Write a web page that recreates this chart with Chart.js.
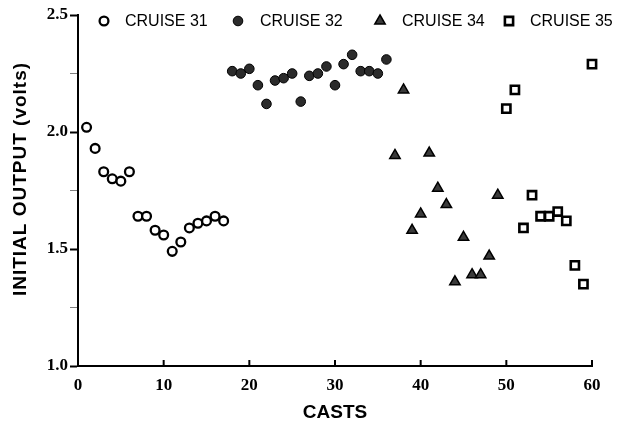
<!DOCTYPE html>
<html>
<head>
<meta charset="utf-8">
<script src="https://cdn.jsdelivr.net/npm/chart.js@4.4.1/dist/chart.umd.min.js"></script>
<style>
  html, body { margin: 0; padding: 0; background: #fff; }
  #wrap { width: 618px; height: 424px; }
</style>
</head>
<body>
<div id="wrap"><canvas id="castChart"></canvas></div>
<script>
// Values
const cruise31Casts = [1, 2, 3, 4, 5, 6, 7, 8, 9, 10, 11, 12, 13, 14, 15, 16, 17];
const cruise31Volts = [2.02, 1.93, 1.83, 1.80, 1.79, 1.83, 1.64, 1.64, 1.58, 1.56, 1.49, 1.53, 1.59, 1.61, 1.62, 1.64, 1.62];

const cruise32Casts = [18, 19, 20, 21, 22, 23, 24, 25, 26, 27, 28, 29, 30, 31, 32, 33, 34, 35, 36];
const cruise32Volts = [2.26, 2.25, 2.27, 2.20, 2.12, 2.22, 2.23, 2.25, 2.13, 2.24, 2.25, 2.28, 2.20, 2.29, 2.33, 2.26, 2.26, 2.25, 2.31];

const cruise34Casts = [37, 38, 39, 40, 41, 42, 43, 44, 45, 46, 47, 48, 49];
const cruise34Volts = [1.90, 2.18, 1.58, 1.65, 1.91, 1.76, 1.69, 1.36, 1.55, 1.39, 1.39, 1.47, 1.73];

const cruise35Casts = [50, 51, 52, 53, 54, 55, 56, 57, 58, 59, 60];
const cruise35Volts = [2.10, 2.18, 1.59, 1.73, 1.64, 1.64, 1.66, 1.62, 1.43, 1.35, 2.29];

const seriesLabels = ['CRUISE 31', 'CRUISE 32', 'CRUISE 34', 'CRUISE 35'];
const xTickValues = [0, 10, 20, 30, 40, 50, 60];
const yTickValues = [1.0, 1.5, 2.0, 2.5];
const xTitle = 'CASTS';
const yTitle = 'INITIAL OUTPUT (volts)';

function toPoints(xs, ys) {
    return xs.map((x, i) => ({ x: x, y: ys[i] }));
}

const tickFont = { family: "'Liberation Serif', serif", size: 17, weight: 'bold' };

// Legend along the top of the plot (drawn by hand so it sits inside the frame)
const topLegend = {
    id: 'topLegend',
    afterDraw(chart) {
        const ctx = chart.ctx;
        const markerX = [104, 238, 380, 509];
        const textX = [125, 260, 402, 530];
        const y = 21;
        ctx.save();
        chart.data.datasets.forEach((ds, i) => {
            ctx.fillStyle = ds.backgroundColor;
            ctx.strokeStyle = ds.borderColor;
            ctx.lineWidth = ds.borderWidth;
            Chart.helpers.drawPoint(ctx, {
                pointStyle: ds.pointStyle,
                radius: ds.pointRadius,
                borderWidth: ds.borderWidth,
                rotation: 0
            }, markerX[i], y);
            ctx.fillStyle = '#000';
            ctx.font = "16px 'Liberation Sans', Arial, sans-serif";
            ctx.textAlign = 'left';
            ctx.textBaseline = 'middle';
            ctx.fillText(ds.label, textX[i], y + 1);
        });
        ctx.restore();
    }
};

// Inward ticks on the x axis and the rotated y title
const axisExtras = {
    id: 'axisExtras',
    afterDraw(chart) {
        const ctx = chart.ctx;
        const xs = chart.scales.x;
        const area = chart.chartArea;
        ctx.save();
        ctx.strokeStyle = '#000';
        ctx.lineWidth = 2;
        xTickValues.forEach(v => {
            const px = xs.getPixelForValue(v);
            ctx.beginPath();
            ctx.moveTo(px, area.bottom);
            ctx.lineTo(px, area.bottom - 6);
            ctx.stroke();
        });
        ctx.translate(21, 179);
        ctx.rotate(-Math.PI / 2);
        ctx.fillStyle = '#000';
        ctx.font = "bold 19px 'Liberation Sans', Arial, sans-serif";
        ctx.letterSpacing = '1px';
        ctx.textAlign = 'center';
        ctx.textBaseline = 'middle';
        ctx.fillText(yTitle, 0, 0);
        ctx.restore();
    }
};

const isMajorY = v => yTickValues.some(t => Math.abs(t - v) < 1e-6);

const ctx = document.getElementById('castChart').getContext('2d');
const castChart = new Chart(ctx, {
    type: 'scatter',
    data: {
        datasets: [{
            label: seriesLabels[0],
            data: toPoints(cruise31Casts, cruise31Volts),
            pointStyle: 'circle',
            pointRadius: 4.4,
            backgroundColor: '#fff',
            borderColor: '#000',
            borderWidth: 2.3,
            clip: false
        }, {
            label: seriesLabels[1],
            data: toPoints(cruise32Casts, cruise32Volts),
            pointStyle: 'circle',
            pointRadius: 4.8,
            backgroundColor: '#2b2b2b',
            borderColor: '#000',
            borderWidth: 1,
            clip: false
        }, {
            label: seriesLabels[2],
            data: toPoints(cruise34Casts, cruise34Volts),
            pointStyle: 'triangle',
            pointRadius: 6,
            backgroundColor: '#3a3a3a',
            borderColor: '#000',
            borderWidth: 1.5,
            clip: false
        }, {
            label: seriesLabels[3],
            data: toPoints(cruise35Casts, cruise35Volts),
            pointStyle: 'rect',
            pointRadius: 5.8,
            backgroundColor: '#fff',
            borderColor: '#000',
            borderWidth: 2.6,
            clip: false
        }]
    },
    options: {
        responsive: true,
        maintainAspectRatio: false,
        animation: false,
        layout: { padding: { top: 15, right: 26, bottom: 0, left: 0 } },
        plugins: {
            legend: { display: false },
            tooltip: { enabled: false }
        },
        scales: {
            x: {
                type: 'linear',
                min: 0,
                max: 60,
                afterFit: scale => { scale.height = 58; },
                border: { display: true, color: '#000', width: 2 },
                grid: { drawOnChartArea: false, drawTicks: false },
                ticks: { stepSize: 10, color: '#000', font: tickFont, padding: 9 },
                title: {
                    display: true,
                    text: xTitle,
                    color: '#000',
                    font: { family: "'Liberation Sans', Arial, sans-serif", size: 19, weight: 'bold' },
                    padding: { top: 0, bottom: 0 }
                }
            },
            y: {
                type: 'linear',
                min: 1.0,
                max: 2.5,
                afterFit: scale => { scale.width = 78; },
                border: { display: true, color: '#000', width: 2 },
                grid: {
                    drawOnChartArea: false,
                    drawTicks: true,
                    tickLength: 8,
                    tickColor: c => isMajorY(c.tick.value) ? '#000' : 'rgba(0,0,0,0.5)',
                    tickWidth: c => isMajorY(c.tick.value) ? 2 : 1
                },
                ticks: {
                    stepSize: 0.25,
                    color: '#000',
                    font: tickFont,
                    padding: 2,
                    callback: v => isMajorY(v) ? v.toFixed(1) : ''
                }
            }
        }
    },
    plugins: [topLegend, axisExtras]
});
</script>
</body>
</html>
